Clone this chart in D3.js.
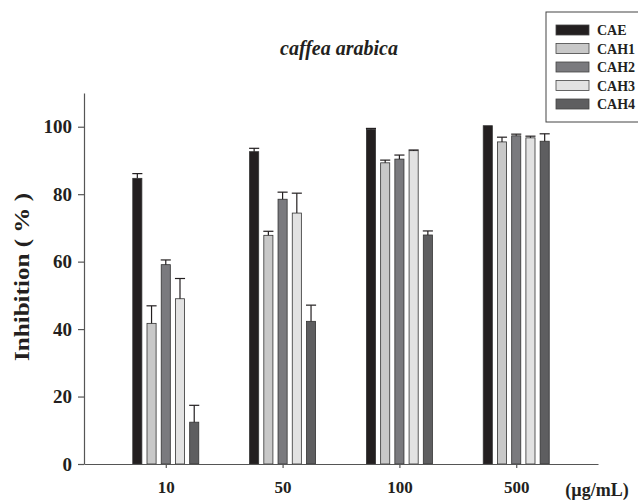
<!DOCTYPE html>
<meta charset="UTF-8">
<style>
  body { margin: 0; background: #fff; }
  text { font-family: "Liberation Serif", "DejaVu Serif", serif; font-weight: bold; fill: #231f20; }
  .axis path, .axis line { stroke: #555; stroke-width: 1.2px; }
</style>
<body>
<script src="https://cdnjs.cloudflare.com/ajax/libs/d3/7.8.5/d3.min.js"></script>
<script>

// concentrations (µg/mL)
var doses = ["10", "50", "100", "500"];
var series = ["CAE", "CAH1", "CAH2", "CAH3", "CAH4"];
var colors = ["#231f20", "#c8c8c8", "#7a7a7e", "#e2e2e2", "#5e5e60"];

// inhibition (%) per series, in dose order
var valCAE  = [84.7, 92.6, 99.2, 100.3];
var valCAH1 = [41.7, 67.8, 89.3, 95.5];
var valCAH2 = [59.1, 78.5, 90.4, 97.3];
var valCAH3 = [49.0, 74.4, 92.9, 96.7];
var valCAH4 = [12.4, 42.3, 67.9, 95.7];

// error (upper) per series
var errCAE  = [1.4, 1.0, 0.3, 0];
var errCAH1 = [5.2, 1.2, 0.8, 1.4];
var errCAH2 = [1.4, 2.1, 1.2, 0.5];
var errCAH3 = [6.0, 5.9, 0.2, 0.5];
var errCAH4 = [5.0, 4.8, 1.2, 2.2];

var yTicks = [0, 20, 40, 60, 80, 100];

var vals = [valCAE, valCAH1, valCAH2, valCAH3, valCAH4];
var errs = [errCAE, errCAH1, errCAH2, errCAH3, errCAH4];

var width = 638, height = 500;
var margin = {top: 93, right: 40, bottom: 36, left: 84};

var svg = d3.select("body").append("svg")
    .attr("width", width)
    .attr("height", height);

var x = d3.scalePoint()
    .domain(doses)
    .range([margin.left, width - margin.right])
    .padding(0.7);

var y = d3.scaleLinear()
    .domain([0, 110])
    .range([height - margin.bottom, margin.top]);

// bars inside each group
var inner = d3.scaleBand()
    .domain(series)
    .range([-33, 33])
    .paddingInner(0.36);

var rows = [];
series.forEach(function(s, si) {
  doses.forEach(function(d, di) {
    rows.push({s: s, d: d, v: vals[si][di], e: errs[si][di], c: colors[si]});
  });
});

var bars = svg.append("g");

bars.selectAll("rect")
    .data(rows)
  .enter().append("rect")
    .attr("x", function(r) { return x(r.d) + inner(r.s); })
    .attr("y", function(r) { return y(r.v); })
    .attr("width", inner.bandwidth())
    .attr("height", function(r) { return y(0) - y(r.v); })
    .style("fill", function(r) { return r.c; })
    .style("stroke", "#333")
    .style("stroke-width", 0.8);

// error bars (upper only)
var eb = bars.selectAll("g.err")
    .data(rows.filter(function(r) { return r.e > 0; }))
  .enter().append("g")
    .attr("class", "err")
    .style("stroke", "#231f20")
    .style("stroke-width", 1.2);

eb.append("line")
    .attr("x1", function(r) { return x(r.d) + inner(r.s) + inner.bandwidth() / 2; })
    .attr("x2", function(r) { return x(r.d) + inner(r.s) + inner.bandwidth() / 2; })
    .attr("y1", function(r) { return y(r.v); })
    .attr("y2", function(r) { return y(r.v + r.e); });

eb.append("line")
    .attr("x1", function(r) { return x(r.d) + inner(r.s) - 0.5; })
    .attr("x2", function(r) { return x(r.d) + inner(r.s) + inner.bandwidth() + 0.5; })
    .attr("y1", function(r) { return y(r.v + r.e); })
    .attr("y2", function(r) { return y(r.v + r.e); });

// axes
var xAxis = svg.append("g")
    .attr("class", "axis")
    .attr("transform", "translate(0," + y(0) + ")")
    .call(d3.axisBottom(x).tickSize(4).tickSizeOuter(0).tickPadding(13));
xAxis.selectAll("text").style("font-size", "17px").attr("fill", "#231f20");

var yAxis = svg.append("g")
    .attr("class", "axis")
    .attr("transform", "translate(" + margin.left + ",0)")
    .call(d3.axisLeft(y).tickValues(yTicks).tickSize(6).tickSizeOuter(0).tickPadding(6));
yAxis.selectAll("text").style("font-size", "19px").attr("fill", "#231f20");

svg.append("text")
    .attr("x", 597)
    .attr("y", 496)
    .attr("text-anchor", "middle")
    .style("font-size", "18px")
    .text("(\u00b5g/mL)");

svg.append("text")
    .attr("transform", "translate(29,277) rotate(-90)")
    .attr("text-anchor", "middle")
    .attr("textLength", 168)
    .attr("lengthAdjust", "spacingAndGlyphs")
    .style("font-size", "21px")
    .text("Inhibition ( % )");

svg.append("text")
    .attr("x", 339)
    .attr("y", 55)
    .attr("text-anchor", "middle")
    .style("font-size", "20px")
    .style("font-style", "italic")
    .text("caffea arabica");

// legend
var legend = svg.append("g").attr("transform", "translate(546,12)");
legend.append("rect")
    .attr("width", 100).attr("height", 110)
    .style("fill", "#fff").style("stroke", "#444").style("stroke-width", 1);

var item = legend.selectAll("g.item")
    .data(series)
  .enter().append("g")
    .attr("class", "item")
    .attr("transform", function(d, i) { return "translate(10," + (13 + i * 18.5) + ")"; });

item.append("rect")
    .attr("width", 33).attr("height", 10)
    .style("fill", function(d, i) { return colors[i]; })
    .style("stroke", "#444").style("stroke-width", 0.8);

item.append("text")
    .attr("x", 41).attr("y", 10)
    .style("font-size", "14px")
    .text(function(d) { return d; });

</script>
</body>
